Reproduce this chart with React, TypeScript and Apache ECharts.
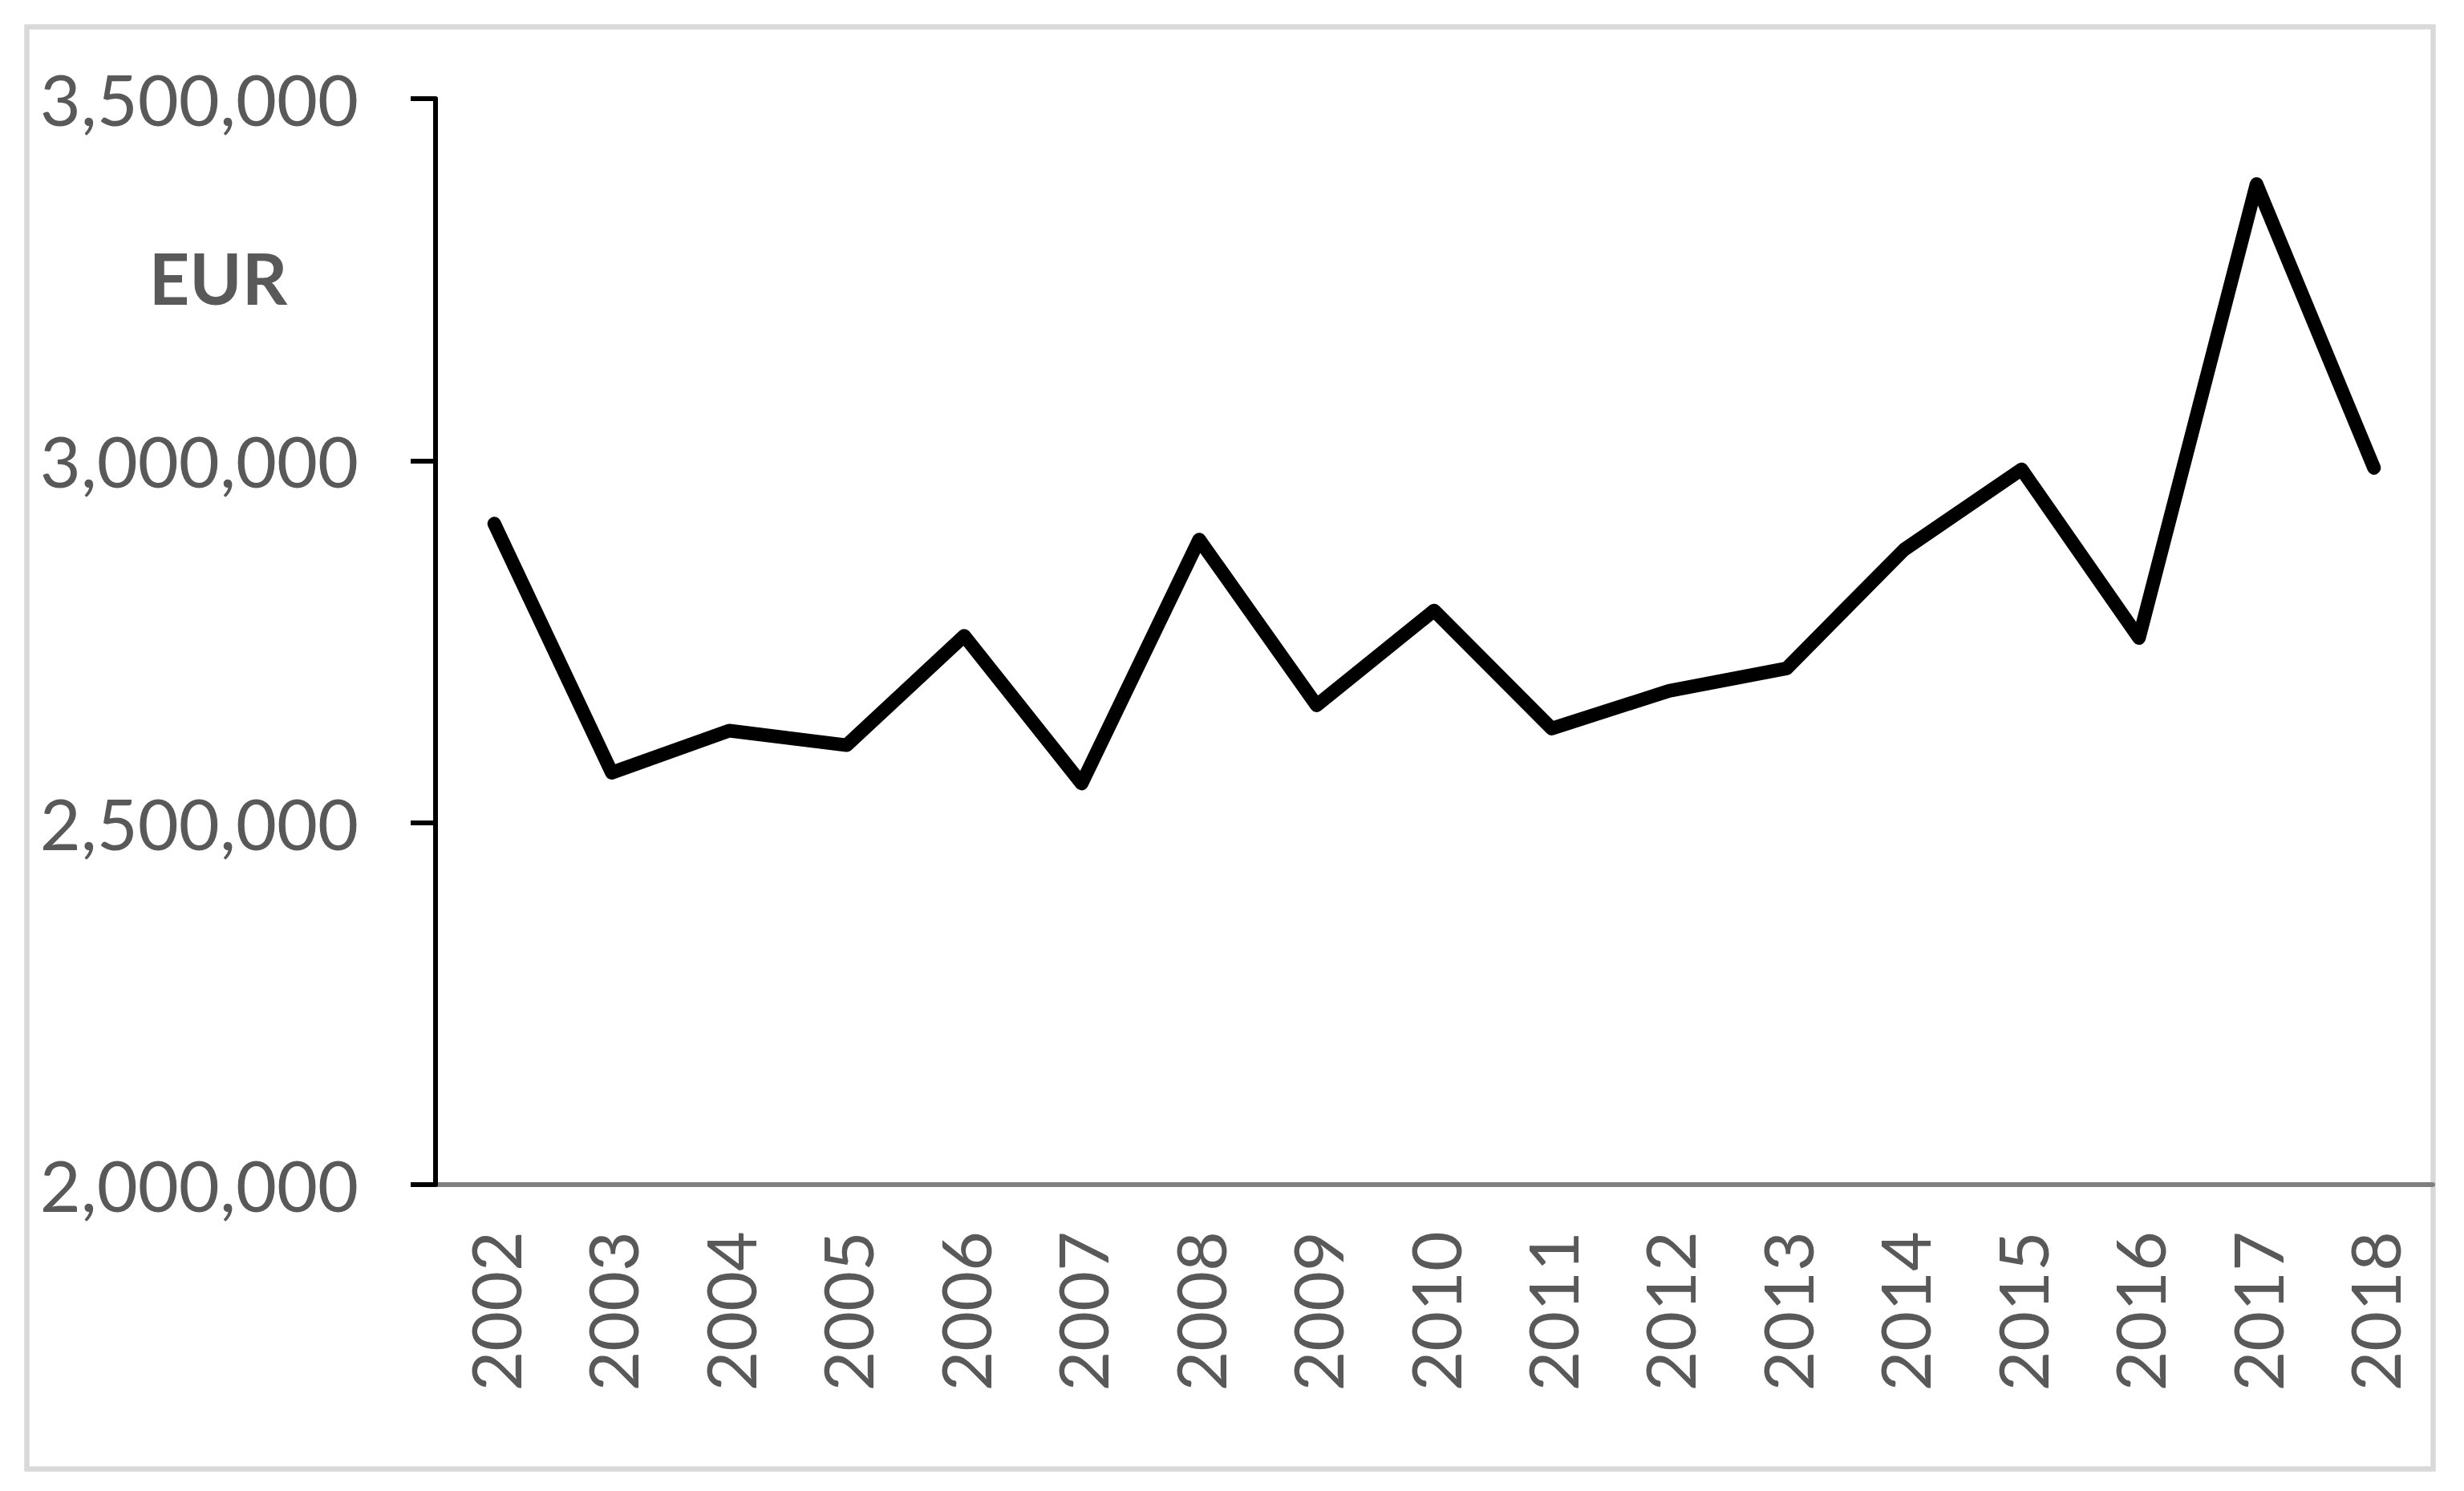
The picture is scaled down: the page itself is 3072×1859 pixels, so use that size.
import React, { useEffect, useRef } from "react";
import * as echarts from "echarts";

const years = ["2002","2003","2004","2005","2006","2007","2008","2009","2010","2011","2012","2013","2014","2015","2016","2017","2018"];
const values = [2913000, 2569000, 2627000, 2607000, 2758000, 2554000, 2891000, 2662000, 2793000, 2630000, 2682000, 2713000, 2877000, 2988000, 2755000, 3382000, 2990000];
const yMin = 2000000;
const yMax = 3500000;
const yStep = 500000;
const unitLabel = "EUR";

const FONT = "Lato, 'Open Sans', sans-serif";
const LABEL_COLOR = "#595959";

export default function App() {
  const ref = useRef<HTMLDivElement>(null);
  useEffect(() => {
    if (!ref.current) return;
    const chart = echarts.init(ref.current, undefined, { renderer: "svg" });
    chart.setOption({
      animation: false,
      backgroundColor: "#ffffff",
      grid: { left: 543, top: 123, right: 39, bottom: 382, containLabel: false },
      graphic: [
        {
          type: "rect",
          shape: { x: 33.5, y: 33.5, width: 3000, height: 1798 },
          style: { fill: "none", stroke: "#d9d9d9", lineWidth: 6.5 },
          z: 0,
        },
        {
          type: "text",
          x: 272,
          y: 346,
          style: {
            text: unitLabel,
            fontFamily: FONT,
            fontSize: 88,
            fontWeight: "bold",
            fill: LABEL_COLOR,
            textAlign: "center",
            textVerticalAlign: "middle",
          },
          z: 10,
        },
      ],
      xAxis: {
        type: "category",
        data: years,
        boundaryGap: true,
        axisLine: { show: true, lineStyle: { color: "#808080", width: 6 } },
        axisTick: { show: false },
        axisLabel: {
          rotate: 90,
          margin: 58,
          fontFamily: FONT,
          fontSize: 86,
          color: LABEL_COLOR,
        },
        splitLine: { show: false },
      },
      yAxis: {
        type: "value",
        min: yMin,
        max: yMax,
        interval: yStep,
        axisLine: { show: true, lineStyle: { color: "#000000", width: 6 } },
        axisTick: { show: true, inside: false, length: 31, lineStyle: { color: "#000000", width: 6 } },
        axisLabel: {
          margin: 96,
          fontFamily: FONT,
          fontSize: 88,
          color: LABEL_COLOR,
          formatter: (v: number) => v.toLocaleString("en-US"),
        },
        splitLine: { show: false },
        z: 5,
      },
      series: [
        {
          type: "line",
          data: values,
          symbol: "none",
          lineStyle: { color: "#000000", width: 17, cap: "round", join: "round" },
          z: 3,
        },
      ],
    });
    return () => chart.dispose();
  }, []);
  return (
    <div
      ref={ref}
      style={{ position: "fixed", left: 0, top: 0, width: 3072, height: 1859, background: "#fff" }}
    />
  );
}
